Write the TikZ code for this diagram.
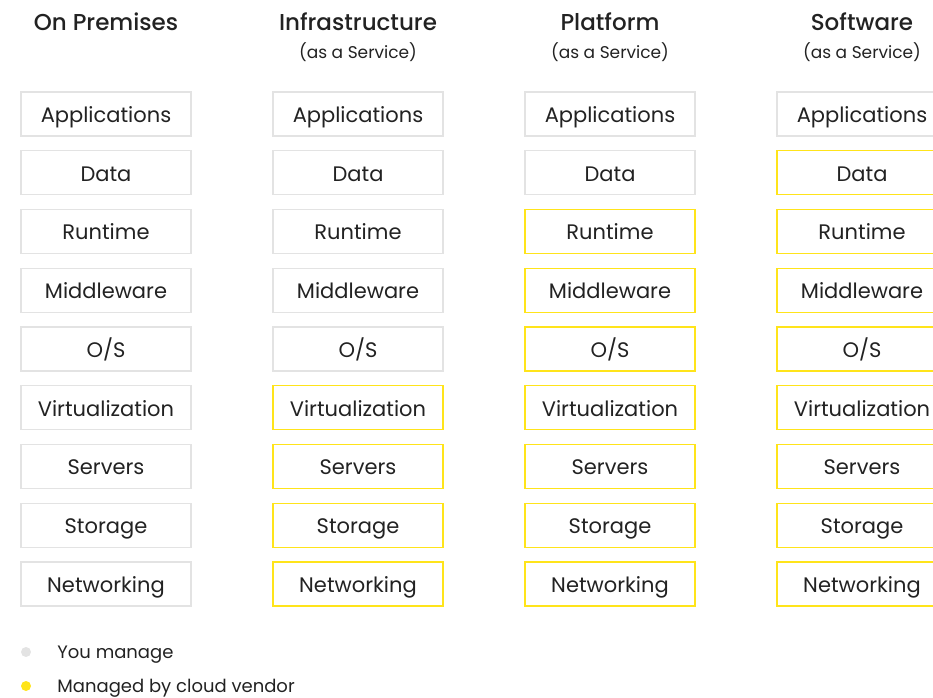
\documentclass[tikz,border=0pt]{standalone}
\usepackage{fontspec}
\setmainfont{Poppins}
\newfontfamily\headfont{Poppins Medium}
\usetikzlibrary{positioning}
\definecolor{yougray}{HTML}{E3E3E3}
\definecolor{vendoryellow}{HTML}{FFE41A}
\definecolor{textdark}{HTML}{222222}

\begin{document}
\begin{tikzpicture}[x=1pt,y=-1pt]
\tikzstyle{every node}+=[text=textdark, inner sep=0pt]
\tikzstyle{layer}=[draw=yougray, line width=1.2pt, minimum width=170pt, minimum height=44pt, text height=16.5pt, text depth=0pt, font=\fontsize{21}{24}\selectfont]
\tikzstyle{vendor}=[layer, draw=vendoryellow]
\tikzstyle{head}=[font=\fontsize{23}{26}\headfont]
\tikzstyle{sub}=[font=\fontsize{17}{20}\selectfont]
\tikzstyle{legend}=[text height=12.6pt, text depth=0pt, font=\fontsize{18}{21}\selectfont]
\tikzstyle{dot}=[circle, minimum size=10pt]
\useasboundingbox (0,0) rectangle (933,697);
\clip (0,0) rectangle (933,697);
% column headings
\node[head] (onprem-title) at (106,22) {On Premises};
\node[head] (iaas-title) at (358,22) {Infrastructure};
\node[sub] (iaas-sub) at (358,52) {(as a Service)};
\node[head] (paas-title) at (610,22) {Platform};
\node[sub] (paas-sub) at (610,52) {(as a Service)};
\node[head] (saas-title) at (862,22) {Software};
\node[sub] (saas-sub) at (862,52) {(as a Service)};
% stack of layers, yellow from row \from down
\foreach \col/\cx/\from in {onprem/106/10, iaas/358/6, paas/610/3, saas/862/2} {
  \foreach \name [count=\r] in {Applications,Data,Runtime,Middleware,O/S,Virtualization,Servers,Storage,Networking} {
    \ifnum\r<\from \def\sty{layer}\else\def\sty{vendor}\fi
    \node[\sty] (\col-\r) at (\cx,{114+(\r-1)*58.75}) {\name};
  }
}
% legend
\node[dot, fill=yougray] (you-dot) at (26,652) {};
\node[legend, right=26pt of you-dot] (you-text) {You manage};
\node[dot, fill=vendoryellow] (vendor-dot) at (26,686) {};
\node[legend, right=26pt of vendor-dot] (vendor-text) {Managed by cloud vendor};
\end{tikzpicture}
\end{document}
